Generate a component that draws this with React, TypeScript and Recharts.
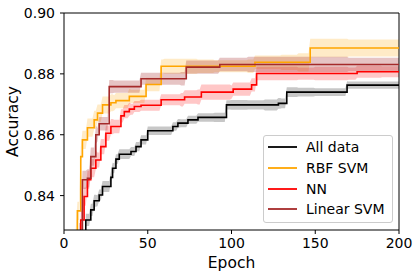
import {
  Area,
  ComposedChart,
  Legend,
  Line,
  ReferenceLine,
  XAxis,
  YAxis,
} from "recharts";

// step points: epoch where the step starts, value after it
const allEpochs = [0, 13, 16, 18, 21, 23, 28, 29, 31, 33, 40, 43, 46, 50, 65, 68, 74, 80, 97, 128, 133, 169];
const allValues = [0.8, 0.832, 0.8353, 0.8383, 0.8402, 0.843, 0.846, 0.849, 0.852, 0.8536, 0.8545, 0.8561, 0.8583, 0.8613, 0.8627, 0.8638, 0.8649, 0.8657, 0.8698, 0.8703, 0.874, 0.8763];

const rbfEpochs = [0, 7, 8, 10, 11, 14, 18, 20, 23, 28, 31, 39, 49, 58, 114, 147];
const rbfValues = [0.8, 0.826, 0.835, 0.8528, 0.8583, 0.8623, 0.8649, 0.8671, 0.8698, 0.8705, 0.8712, 0.8726, 0.8765, 0.8825, 0.8838, 0.8885];

const nnEpochs = [0, 10, 12, 14, 16, 19, 22, 25, 28, 34, 36, 39, 42, 46, 58, 72, 82, 101, 112, 115, 175];
const nnValues = [0.8, 0.832, 0.8397, 0.8452, 0.849, 0.8517, 0.8561, 0.8605, 0.8627, 0.8662, 0.8676, 0.8684, 0.8693, 0.8697, 0.8715, 0.8724, 0.874, 0.875, 0.8764, 0.8801, 0.8807];

const linEpochs = [0, 9, 11, 14, 16, 19, 21, 27, 46, 73, 93];
const linValues = [0.8, 0.828, 0.8452, 0.8457, 0.8528, 0.86, 0.8636, 0.8758, 0.8784, 0.8822, 0.8831];

// half width of the shaded band, one value per 10 epochs
const allBand = [0.002, 0.002, 0.0018, 0.0016, 0.0015, 0.0014, 0.0014, 0.0013, 0.0014, 0.0015, 0.0016, 0.0015, 0.0018, 0.0016, 0.0014, 0.0013, 0.0013, 0.0012, 0.0012, 0.0012, 0.0012];
const rbfBand = [0.003, 0.003, 0.0028, 0.0025, 0.0022, 0.0022, 0.0025, 0.0025, 0.0022, 0.002, 0.002, 0.0022, 0.0022, 0.0025, 0.003, 0.003, 0.003, 0.0028, 0.0028, 0.0028, 0.0028];
const nnBand = [0.003, 0.003, 0.0025, 0.0022, 0.0018, 0.0018, 0.0018, 0.0022, 0.0025, 0.0025, 0.0022, 0.0022, 0.0022, 0.0022, 0.002, 0.0022, 0.0022, 0.002, 0.002, 0.0018, 0.0018];
const linBand = [0.003, 0.003, 0.0022, 0.002, 0.002, 0.002, 0.002, 0.0022, 0.0022, 0.0022, 0.0022, 0.0025, 0.0025, 0.0025, 0.0025, 0.0025, 0.0025, 0.0022, 0.0022, 0.0022, 0.0022];

const xTicks = [0, 50, 100, 150, 200];
const yTicks = [0.84, 0.86, 0.88, 0.9];

const series = [
  { key: "all", name: "All data", color: "#000000", epochs: allEpochs, values: allValues, band: allBand, alpha: 0.22 },
  { key: "rbf", name: "RBF SVM", color: "#FFA500", epochs: rbfEpochs, values: rbfValues, band: rbfBand, alpha: 0.22 },
  { key: "nn", name: "NN", color: "#FF0000", epochs: nnEpochs, values: nnValues, band: nnBand, alpha: 0.22 },
  { key: "lin", name: "Linear SVM", color: "#A52A2A", epochs: linEpochs, values: linValues, band: linBand, alpha: 0.28 },
];

function stepAt(epochs: number[], values: number[], e: number) {
  let v = values[0];
  for (let i = 0; i < epochs.length; i++) if (epochs[i] <= e) v = values[i];
  return v;
}

const rows = Array.from({ length: 201 }, (_, e) => {
  const row: Record<string, any> = { epoch: e };
  for (const s of series) {
    const v = stepAt(s.epochs, s.values, e);
    const w = s.band[Math.floor(e / 10)];
    row[s.key] = v;
    row[s.key + "Band"] = [v - w, v + w];
  }
  return row;
});

const font = "DejaVu Sans, sans-serif";

function LegendBox() {
  return (
    <div
      style={{
        boxSizing: "border-box",
        width: 130,
        height: 88,
        border: "1px solid #cccccc",
        borderRadius: 3,
        background: "rgba(255,255,255,0.8)",
        fontFamily: font,
        fontSize: 14,
        color: "#000",
        paddingTop: 1,
      }}
    >
      {series.map((s) => (
        <div key={s.key} style={{ display: "flex", alignItems: "center", height: 20.7 }}>
          <svg width={42} height={10} style={{ flex: "none" }}>
            <line x1={4} y1={5} x2={33} y2={5} stroke={s.color} strokeWidth={1.8} />
          </svg>
          <span>{s.name}</span>
        </div>
      ))}
    </div>
  );
}

export default function App() {
  return (
    <div style={{ position: "absolute", left: 0, top: 0, background: "#fff" }}>
      <ComposedChart
        width={419}
        height={277}
        data={rows}
        margin={{ top: 13, right: 20, bottom: 0, left: 0 }}
        style={{ fontFamily: font }}
      >
        <XAxis
          dataKey="epoch"
          type="number"
          domain={[0, 200]}
          ticks={xTicks}
          height={47}
          tickSize={4}
          tickMargin={4}
          stroke="#000"
          tick={{ fill: "#000", fontSize: 14 }}
          label={{ value: "Epoch", position: "insideBottom", offset: 9, fill: "#000", fontSize: 15.5 }}
        />
        <YAxis
          domain={[0.8287, 0.9]}
          allowDataOverflow
          ticks={yTicks}
          width={64}
          tickSize={4}
          tickMargin={5}
          stroke="#000"
          tickFormatter={(v: number) => v.toFixed(2)}
          tick={{ fill: "#000", fontSize: 14 }}
          label={{
            value: "Accuracy",
            angle: -90,
            position: "insideLeft",
            offset: 12,
            fill: "#000",
            fontSize: 15.5,
            style: { textAnchor: "middle" },
          }}
        />
        <ReferenceLine y={0.9} stroke="#000" />
        <ReferenceLine x={200} stroke="#000" />
        {series.map((s) => (
          <Area
            key={s.key + "Band"}
            dataKey={s.key + "Band"}
            type="linear"
            stroke="none"
            fill={s.color}
            fillOpacity={s.alpha}
            activeDot={false}
            isAnimationActive={false}
          />
        ))}
        {series.map((s) => (
          <Line
            key={s.key}
            dataKey={s.key}
            name={s.name}
            type="stepAfter"
            stroke={s.color}
            strokeWidth={1.6}
            dot={false}
            activeDot={false}
            isAnimationActive={false}
          />
        ))}
        <Legend
          layout="horizontal"
          verticalAlign="middle"
          align="center"
          content={() => <LegendBox />}
          wrapperStyle={{ left: 263, top: 135, width: 130, height: 88 }}
        />
      </ComposedChart>
    </div>
  );
}
